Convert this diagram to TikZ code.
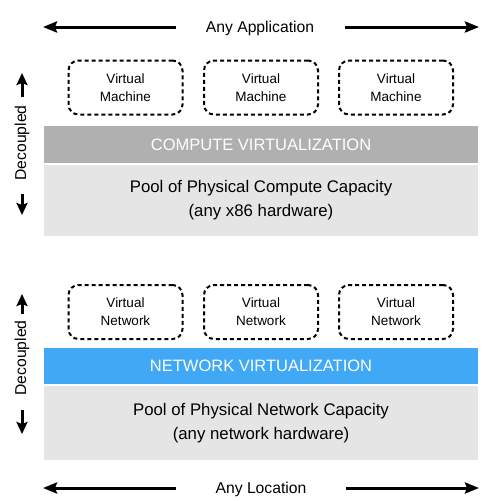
\documentclass[tikz,border=0pt]{standalone}
\usepackage{fontspec}
\setmainfont{Liberation Sans}
\usetikzlibrary{arrows.meta}
\definecolor{barGray}{RGB}{176,176,176}
\definecolor{poolGray}{RGB}{229,229,229}
\definecolor{barBlue}{RGB}{64,168,244}
\begin{document}
\begin{tikzpicture}[x=1pt,y=-1pt,
  bigarrow/.style={line width=3pt,-{Stealth[length=14pt,width=11pt,inset=2pt]}},
  decarrow/.style={line width=3pt,-{Stealth[length=12pt,width=11pt,inset=2pt]}},
  vbox/.style={draw,dashed,line width=2pt,dash pattern=on 4pt off 3pt,rounded corners=10pt,minimum width=114pt,minimum height=54pt,align=center,font=\fontsize{13.5}{18}\selectfont,inner sep=0pt},
  bar/.style={minimum width=434pt,inner sep=0pt,text=white,font=\fontsize{16.5}{18}\selectfont},
  pool/.style={fill=poolGray,minimum width=434pt,inner sep=0pt,align=center,font=\fontsize{16.8}{24}\selectfont},
  lbl/.style={font=\fontsize{15.7}{17}\selectfont,inner sep=0pt}]
\useasboundingbox (0,0) rectangle (500,501);
% top arrows
\node[lbl] (app) at (260,28) {Any Application};
\coordinate (appL) at (43,27);
\coordinate (appR) at (479,27);
\draw[bigarrow] (176,27) -- (appL);
\draw[bigarrow] (345,27) -- (appR);
% VMs
\node[vbox] (vm1) at (125.5,87.5) {Virtual\\Machine};
\node[vbox] (vm2) at (261,87.5) {Virtual\\Machine};
\node[vbox] (vm3) at (396,87.5) {Virtual\\Machine};
% compute
\node[bar,fill=barGray,minimum height=37pt] (cv) at (261,144.5) {COMPUTE VIRTUALIZATION};
\node[pool,minimum height=71pt] (cp) at (261,200.5) {Pool of Physical Compute Capacity\\(any x86 hardware)};
% decoupled top
\node[lbl,rotate=90] (dec1) at (22,143) {Decoupled};
\coordinate (d1u) at (22,73);
\coordinate (d1d) at (22,215);
\draw[decarrow] (22,97) -- (d1u);
\draw[decarrow] (22,194) -- (d1d);
% networks
\node[vbox] (vn1) at (125.5,312) {Virtual\\Network};
\node[vbox] (vn2) at (261,312) {Virtual\\Network};
\node[vbox] (vn3) at (396,312) {Virtual\\Network};
\node[bar,fill=barBlue,minimum height=36pt] (nv) at (261,366) {NETWORK VIRTUALIZATION};
\node[pool,minimum height=74pt] (np) at (261,423) {Pool of Physical Network Capacity\\(any network hardware)};
% decoupled bottom
\node[lbl,rotate=90] (dec2) at (22,358) {Decoupled};
\coordinate (d2u) at (22,294);
\coordinate (d2d) at (22,434);
\draw[decarrow] (22,314) -- (d2u);
\draw[decarrow] (22,410) -- (d2d);
% bottom arrows
\node[lbl] (loc) at (261,489) {Any Location};
\coordinate (locL) at (43,488);
\coordinate (locR) at (479,488);
\draw[bigarrow] (176,488) -- (locL);
\draw[bigarrow] (346,488) -- (locR);
\end{tikzpicture}
\end{document}
